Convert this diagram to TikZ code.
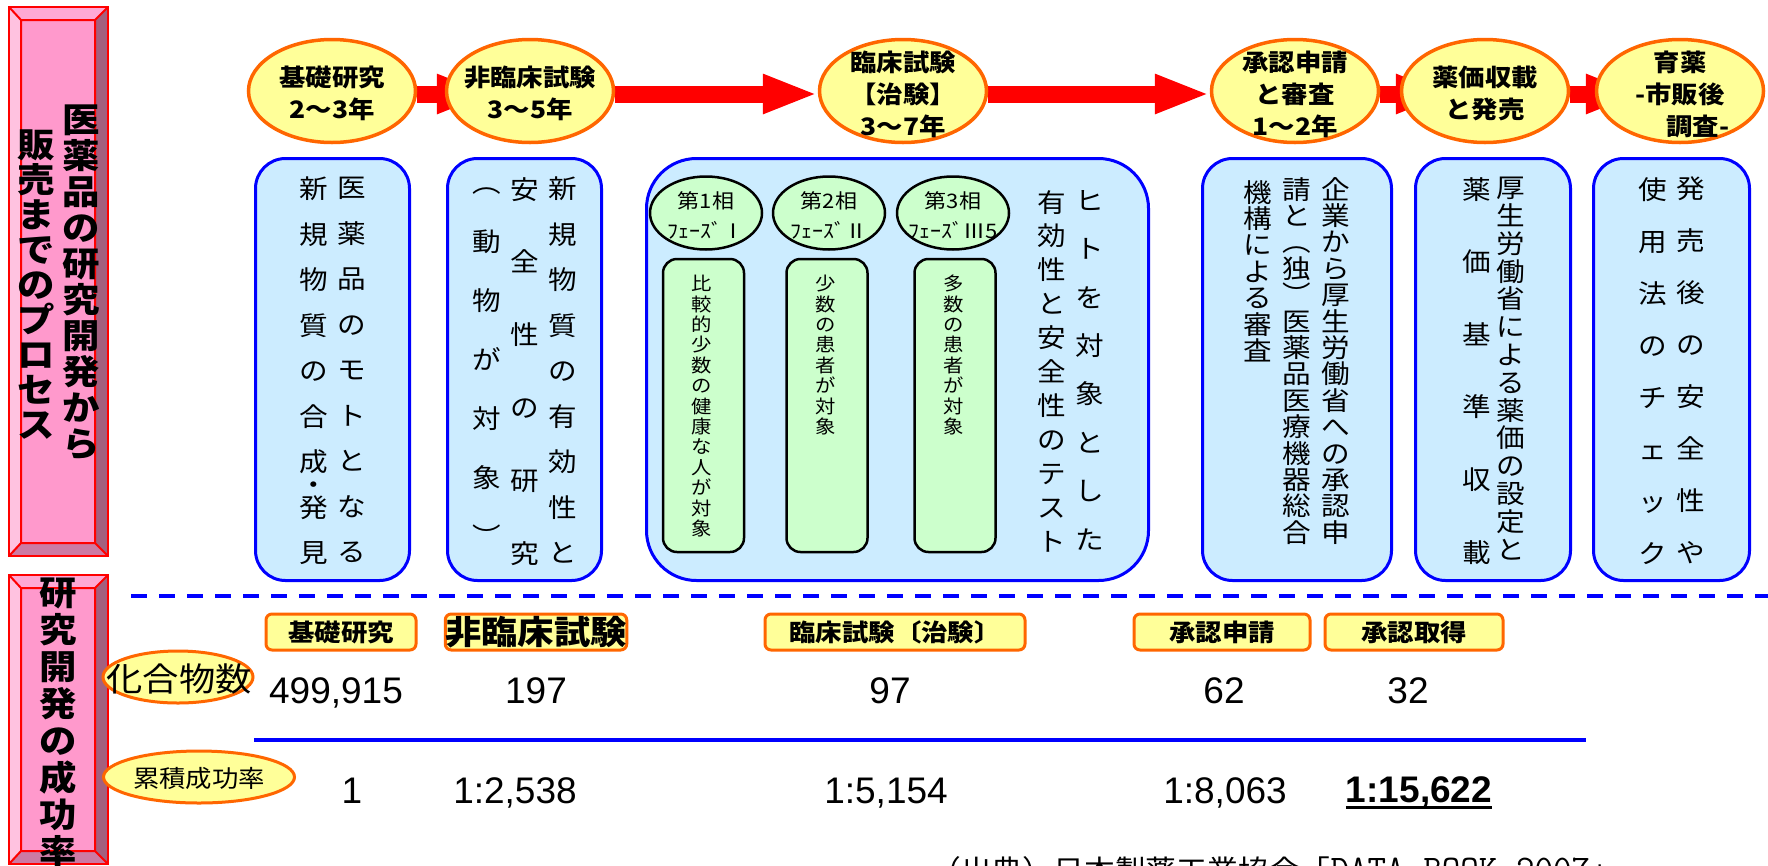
\documentclass[tikz,border=0pt]{standalone}
\usepackage{fontspec}
\setmainfont{Noto Sans CJK JP}[FakeStretch=1.1]
\newfontfamily\numfont{Liberation Sans}
\usetikzlibrary{shapes,arrows.meta,backgrounds}

\definecolor{pinkface}{HTML}{FF99CC}
\definecolor{pinktop}{HTML}{FFA8D4}
\definecolor{pinklight}{HTML}{FFC2E0}
\definecolor{pinkdark}{HTML}{A3607F}
\definecolor{pinkbottom}{HTML}{CC7AA3}
\definecolor{eyellow}{HTML}{FFFF99}
\definecolor{eorange}{HTML}{FF6600}
\definecolor{boxblue}{HTML}{CCECFF}
\definecolor{phasegreen}{HTML}{CCFFCC}

\tikzstyle{stage} = [ellipse, draw=eorange, fill=eyellow, line width=3.5pt, minimum width=167pt, minimum height=103pt, inner sep=0pt]
\tikzstyle{stagetext} = [align=center, inner sep=0pt, font=\bfseries\fontsize{24}{32}\selectfont]
\tikzstyle{bigarrow} = [draw=red, line width=17pt, -{Triangle[length=55pt,width=36pt]}]
\tikzstyle{infobox} = [rectangle, draw=blue, fill=boxblue, line width=3pt, rounded corners=30pt, minimum height=422pt]
\tikzstyle{phase} = [ellipse, draw, fill=phasegreen, line width=2.5pt, minimum width=112pt, minimum height=73pt, inner sep=0pt]
\tikzstyle{phasetext} = [align=center, inner sep=0pt, font=\fontsize{20}{30}\selectfont]
\tikzstyle{phasebox} = [rectangle, draw, fill=phasegreen, line width=2.5pt, rounded corners=14pt, minimum width=81pt, minimum height=293pt]
\tikzstyle{tag} = [rectangle, draw=eorange, fill=eyellow, line width=3pt, rounded corners=6pt, minimum height=36pt, inner sep=0pt, font=\bfseries\fontsize{24}{28}\selectfont]
\tikzstyle{rowlabel} = [ellipse, draw=eorange, fill=eyellow, line width=3pt, minimum height=52pt, inner sep=0pt]
\tikzstyle{numtext} = [anchor=base, inner sep=0pt, font=\numfont\fontsize{37}{40}\selectfont]

% vertical columns of text, #1 = pitch of the characters
\tikzset{
  vcol/.style={align=center, anchor=north, inner sep=0pt, font={\fontsize{26}{#1}\selectfont\lineskiplimit=-100pt}},
  vsmall/.style={align=center, anchor=north, inner sep=0pt, font={\fontsize{18.5}{#1}\selectfont\lineskiplimit=-100pt}},
  vbar/.style={align=center, anchor=north, inner sep=0pt, font={\bfseries\fontsize{34}{#1}\selectfont\lineskiplimit=-100pt}}
}

% pink bevelled bar: x1,y1,x2,y2 of the outer edge
\newcommand{\bevelbar}[4]{%
  \fill[pinkface] (#1+12,#2+13) rectangle (#3-13,#4-13);
  \fill[pinktop] (#1,#2) -- (#3,#2) -- (#3-13,#2+13) -- (#1+12,#2+13) -- cycle;
  \fill[pinklight] (#1,#2) -- (#1+12,#2+13) -- (#1+12,#4-13) -- (#1,#4) -- cycle;
  \fill[pinkdark] (#3,#2) -- (#3,#4) -- (#3-13,#4-13) -- (#3-13,#2+13) -- cycle;
  \fill[pinkbottom] (#1,#4) -- (#3,#4) -- (#3-13,#4-13) -- (#1+12,#4-13) -- cycle;
  \draw[red, line width=2.5pt] (#1,#2) rectangle (#3,#4);
  \draw[red, line width=2pt] (#1+12,#2+13) rectangle (#3-13,#4-13)
    (#1,#2) -- (#1+12,#2+13) (#3,#2) -- (#3-13,#2+13)
    (#1,#4) -- (#1+12,#4-13) (#3,#4) -- (#3-13,#4-13);
}

\begin{document}
\begin{tikzpicture}[x=1pt,y=-1pt]

   \begin{scope}[on background layer]
   \fill[white] (0,0) rectangle (1768,865);
   \end{scope}
   \useasboundingbox (0,0) rectangle (1768,865);

   % Pink bars on the left
   \bevelbar{9}{7}{108}{556}
   \bevelbar{9}{575}{108}{864}

   \node[vbar=36] (bar1r) at (81,105) {医\\薬\\品\\の\\研\\究\\開\\発\\か\\ら};
   \node[vbar=35] (bar1l) at (36,130) {販\\売\\ま\\で\\の\\プ\\ロ\\セ\\ス};
   \node[vbar=37] (bar2t) at (58,578) {研\\究\\開\\発\\の\\成\\功\\率};

   % Stages
   \node[stage] (e1) at (332,91) {};
   \node[stage] (e2) at (530,91) {};
   \node[stage] (e3) at (903,91) {};
   \node[stage] (e4) at (1295,91) {};
   \node[stage] (e5) at (1485,91) {};
   \node[stage] (e6) at (1680,91) {};

   \node[stagetext] (e1t) at (332,93) {基礎研究\\2〜3年};
   \node[stagetext] (e2t) at (530,93) {非臨床試験\\3〜5年};
   \node[stagetext] (e3t) at (903,94) {臨床試験\\【治験】\\3〜7年};
   \node[stagetext] (e4t) at (1295,94) {承認申請\\と審査\\1〜2年};
   \node[stagetext] (e5t) at (1485,93) {薬価収載\\と発売};
   \node[stagetext] (e6t) at (1680,94) {育薬\\-市販後\\\hspace*{1.5em}調査-};

   %% Arrows
   \begin{scope}[on background layer]
   \draw[bigarrow] ([yshift=-3pt]e1.east) -- ([xshift=47pt,yshift=-3pt]e2.west);
   \draw[bigarrow] ([yshift=-3pt]e2.east) -- ([yshift=-3pt]e3.west);
   \draw[bigarrow] ([yshift=-3pt]e3.east) -- ([yshift=-3pt]e4.west);
   \draw[bigarrow] ([yshift=-3pt]e4.east) -- ([xshift=51pt,yshift=-3pt]e5.west);
   \draw[bigarrow] ([yshift=-3pt]e5.east) -- ([xshift=46pt,yshift=-3pt]e6.west);
   \end{scope}

   % Boxes under the stages
   \node[infobox, minimum width=154pt] (b1) at (332.5,369.5) {};
   \node[infobox, minimum width=154pt] (b2) at (524.5,369.5) {};
   \node[infobox, minimum width=502pt, rounded corners=50pt] (trial) at (897.5,369.5) {};
   \node[infobox, minimum width=189pt] (b4) at (1297,369.5) {};
   \node[infobox, minimum width=155pt] (b5) at (1493,369.5) {};
   \node[infobox, minimum width=156pt] (b6) at (1671.5,369.5) {};

   \node[vcol=45.5] (b1r) at (352,177) {医\\薬\\品\\の\\モ\\ト\\と\\な\\る};
   \node[vcol=45.5] (b1l) at (314,177) {新\\規\\物\\質\\の\\合\\成\\[-22.75pt]・\\[-22.75pt]発\\見};

   \node[vcol=45.5] (b2r) at (563,177) {新\\規\\物\\質\\の\\有\\効\\性\\と};
   \node[vcol=72.8] (b2m) at (525,177) {安\\全\\性\\の\\研\\究};
   \node[vcol=59] (b2l) at (487,187) {︵\\動\\物\\が\\対\\象\\︶};

   % Phases of the clinical trial
   \node[phase] (ph1) at (706,213) {};
   \node[phase] (ph2) at (829,213) {};
   \node[phase] (ph3) at (953,213) {};
   \node[phasetext] (ph1t) at (706,215) {第1相\\ﾌｪｰｽﾞⅠ};
   \node[phasetext] (ph2t) at (829,215) {第2相\\ﾌｪｰｽﾞⅡ};
   \node[phasetext] (ph3t) at (953,215) {第3相\\ﾌｪｰｽﾞⅢ5};

   \node[phasebox] (pb1) at (703.5,405.5) {};
   \node[phasebox] (pb2) at (827,405.5) {};
   \node[phasebox] (pb3) at (955,405.5) {};
   \node[vsmall=20.4] (pb1t) at (702,275) {比\\較\\的\\少\\数\\の\\健\\康\\な\\人\\が\\対\\象};
   \node[vsmall=20.4] (pb2t) at (826,275) {少\\数\\の\\患\\者\\が\\対\\象};
   \node[vsmall=20.4] (pb3t) at (954,275) {多\\数\\の\\患\\者\\が\\対\\象};

   \node[vcol=48.4] (trialr) at (1090,190) {ヒ\\ト\\を\\対\\象\\と\\し\\た};
   \node[vcol=33.9] (triall) at (1052,190) {有\\効\\性\\と\\安\\全\\性\\の\\テ\\ス\\ト};

   \node[vcol=26.4] (b4r) at (1336,177) {企\\業\\か\\ら\\厚\\生\\労\\働\\省\\へ\\の\\承\\認\\申};
   \node[vcol=26.4] (b4m) at (1297,177) {請\\と\\︵\\独\\︶\\医\\薬\\品\\医\\療\\機\\器\\総\\合};
   \node[vcol=26.4] (b4l) at (1258,180) {機\\構\\に\\よ\\る\\審\\査};

   \node[vcol=27.8] (b5r) at (1511,177) {厚\\生\\労\\働\\省\\に\\よ\\る\\薬\\価\\の\\設\\定\\と};
   \node[vcol=72.6] (b5l) at (1477,177) {薬\\価\\基\\準\\収\\載};

   \node[vcol=52] (b6r) at (1691,177) {発\\売\\後\\の\\安\\全\\性\\や};
   \node[vcol=52] (b6l) at (1653,177) {使\\用\\法\\の\\チ\\ェ\\ッ\\ク};

   %% Lines
   \coordinate (sepL) at (131,596);
   \coordinate (sepR) at (1768,596);
   \draw[blue, line width=3.3pt, dash pattern=on 16pt off 12pt] (sepL) -- (sepR);
   \coordinate (midL) at (254,740);
   \coordinate (midR) at (1586,740);
   \draw[blue, line width=4pt] (midL) -- (midR);

   % Success rate part
   \node[tag, minimum width=150pt] (lab1) at (341,632) {基礎研究};
   \node[tag, minimum width=180pt, font=\bfseries\fontsize{33}{36}\selectfont] (lab2) at (536,632) {非臨床試験};
   \node[tag, minimum width=260pt] (lab3) at (895,632) {臨床試験〔治験〕};
   \node[tag, minimum width=176pt] (lab4) at (1222,632) {承認申請};
   \node[tag, minimum width=178pt] (lab5) at (1414,632) {承認取得};

   \node[rowlabel, minimum width=150pt] (cmpd) at (178,677) {};
   \node[font=\fontsize{33}{36}\selectfont, inner sep=0pt] (cmpdt) at (179,679) {化合物数};
   \node[rowlabel, minimum width=191pt] (rate) at (199,777) {};
   \node[font=\fontsize{24}{28}\selectfont, inner sep=0pt] (ratet) at (199,778) {累積成功率};

   \node[numtext] (n1) at (336,703) {499,915};
   \node[numtext] (n2) at (536,703) {197};
   \node[numtext] (n3) at (890,703) {97};
   \node[numtext] (n4) at (1224,703) {62};
   \node[numtext] (n5) at (1408,703) {32};

   \node[numtext] (r1) at (352,803) {1};
   \node[numtext] (r2) at (515,803) {1:2,538};
   \node[numtext] (r3) at (886,803) {1:5,154};
   \node[numtext] (r4) at (1225,803) {1:8,063};
   \node[numtext, font=\numfont\bfseries\fontsize{37}{40}\selectfont] (r5) at (1419,802) {1:15,622};
   \draw[line width=3pt] ([yshift=-5pt]r5.base west) -- ([yshift=-5pt]r5.base east);

   \node[anchor=base west, inner sep=0pt, font=\fontsize{28}{30}\selectfont] (src) at (930,880) {（出典）日本製薬工業協会「{\ttfamily\fontsize{36}{38}\selectfont DATA BOOK 2007}」};

\end{tikzpicture}
\end{document}
